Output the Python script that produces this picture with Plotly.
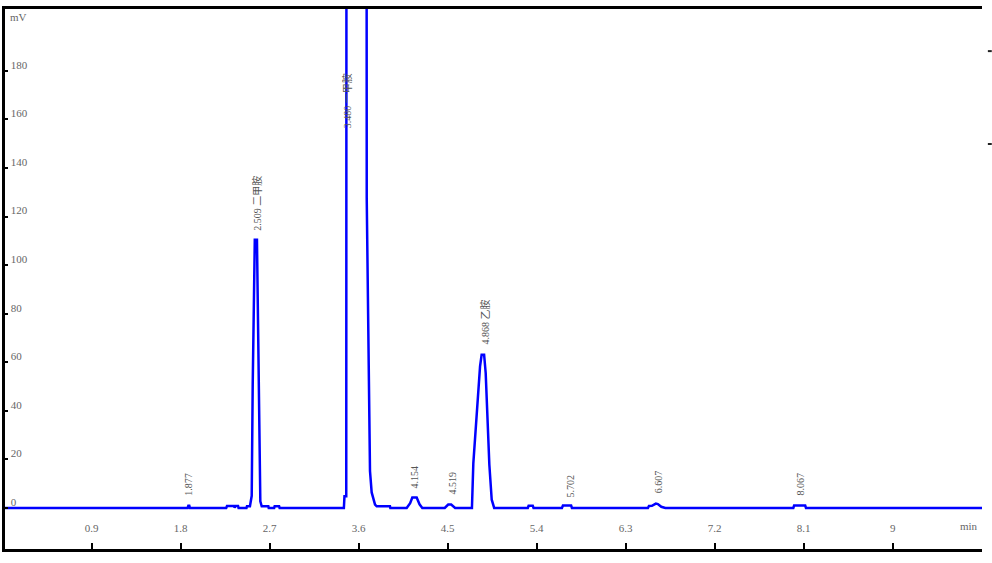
import plotly.graph_objects as go

# ---- data (time in min, signal in mV) ----
time_min = [
    0.000, 1.870, 1.877, 1.887, 1.893,
    2.260, 2.268, 2.340, 2.345, 2.355, 2.380, 2.385,
    2.465, 2.470, 2.500, 2.518, 2.528, 2.549, 2.571, 2.579, 2.595, 2.605, 2.619,
    2.686, 2.690, 2.745, 2.750, 2.795, 2.800,
    3.450, 3.456, 3.474, 3.479, 3.676, 3.681, 3.697, 3.714, 3.731, 3.765, 3.782,
    3.916, 3.920,
    4.085, 4.120, 4.142, 4.186, 4.215, 4.243,
    4.470, 4.505, 4.535, 4.575,
    4.745, 4.759, 4.803, 4.827, 4.843, 4.868, 4.884, 4.904, 4.921, 4.945, 4.960, 4.970,
    5.310, 5.318, 5.360, 5.368,
    5.655, 5.665, 5.748, 5.756,
    6.525, 6.535, 6.565, 6.605, 6.625, 6.660, 6.700,
    7.995, 8.003, 8.115, 8.123,
    9.910,
]
signal_mv = [
    0.0, 0.0, 0.9, 0.9, 0.0,
    0.0, 0.8, 0.8, 0.2, 0.8, 0.8, 0.0,
    0.0, 0.7, 0.7, 5.0, 50.8, 110.5, 110.5, 79.6, 15.1, 2.7, 0.7,
    0.7, 0.0, 0.0, 0.7, 0.7, 0.0,
    0.0, 4.8, 4.8, 600.0, 600.0, 127.6, 60.4, 15.2, 6.4, 1.4, 0.7,
    0.7, 0.0,
    0.0, 2.0, 4.3, 4.3, 1.5, 0.0,
    0.0, 1.4, 1.4, 0.0,
    0.0, 18.4, 43.9, 58.3, 63.1, 63.1, 55.6, 32.2, 17.8, 3.4, 0.7, 0.0,
    0.0, 0.9, 0.9, 0.0,
    0.0, 1.0, 1.0, 0.0,
    0.0, 0.8, 0.9, 1.8, 1.6, 0.5, 0.0,
    0.0, 1.0, 1.0, 0.0,
    0.0,
]

# peak labels: position (min), label base (mV), text
label_time = [1.877, 2.575, 3.490, 4.169, 4.544, 4.877, 5.737, 6.626, 8.063]
label_base = [4.1, 113.3, 155.7, 7.4, 4.5, 66.3, 3.3, 5.4, 4.1]
label_text = ["1.877", "2.509 二甲胺", "3.480 一甲胺", "4.154", "4.519",
              "4.868 乙胺", "5.702", "6.607", "8.067"]

x_ticks = [0.9, 1.8, 2.7, 3.6, 4.5, 5.4, 6.3, 7.2, 8.1, 9]
x_tick_text = ["0.9", "1.8", "2.7", "3.6", "4.5", "5.4", "6.3", "7.2", "8.1", "9"]
y_ticks = [0, 20, 40, 60, 80, 100, 120, 140, 160, 180]
y_tick_text = [str(v) for v in y_ticks]

SERIF = "Liberation Serif, Times New Roman, serif"
LABEL_FONT = "Liberation Serif, Noto Sans CJK SC, serif"

fig = go.Figure()
fig.add_trace(go.Scatter(
    x=time_min, y=signal_mv, mode="lines",
    line=dict(color="#0000FF", width=2.5),
    hoverinfo="skip", showlegend=False, cliponaxis=True,
))

for t, b, s in zip(label_time, label_base, label_text):
    fig.add_annotation(
        x=t, y=b, xref="x", yref="y", text=s, showarrow=False,
        textangle=-90, xanchor="center", yanchor="bottom",
        font=dict(family=LABEL_FONT, size=10, color="#555555"),
    )

fig.add_annotation(x=0.003, y=0.985, xref="paper", yref="paper", text="mV",
                   showarrow=False, xanchor="left", yanchor="middle",
                   font=dict(family=SERIF, size=11, color="#666666"))
fig.add_annotation(x=0.998, y=0.043, xref="paper", yref="paper", text="min",
                   showarrow=False, xanchor="right", yanchor="middle",
                   font=dict(family=SERIF, size=11, color="#666666"))

# small stray marks at the right border of the original
for yp in (0.922, 0.750):
    fig.add_shape(type="line", xref="paper", yref="paper",
                  x0=1.006, x1=1.010, y0=yp, y1=yp,
                  line=dict(color="#222222", width=2))

fig.update_layout(
    width=992, height=563,
    margin=dict(l=5, r=10, t=9, b=14),
    paper_bgcolor="white", plot_bgcolor="white",
    xaxis=dict(
        range=[0.023, 9.903], tickmode="array", tickvals=x_ticks, ticktext=x_tick_text,
        showline=True, linecolor="black", linewidth=3, mirror=True,
        ticks="inside", ticklen=6, tickwidth=2, tickcolor="black",
        ticklabelposition="inside", ticklabelstandoff=8,
        tickfont=dict(family=SERIF, size=11, color="#666666"),
        showgrid=False, zeroline=False,
    ),
    yaxis=dict(
        range=[-16.9, 205.5], tickmode="array", tickvals=y_ticks, ticktext=y_tick_text,
        showline=True, linecolor="black", linewidth=3,
        ticks="inside", ticklen=3, tickwidth=2, tickcolor="black",
        ticklabelposition="inside", ticklabelshift=-6, ticklabelstandoff=2,
        tickfont=dict(family=SERIF, size=11, color="#666666"),
        showgrid=False, zeroline=False,
    ),
)

fig.write_html("out.html",
               config={"displayModeBar": False, "staticPlot": True},
               post_script="document.body.style.margin='0';document.body.style.padding='0';")
